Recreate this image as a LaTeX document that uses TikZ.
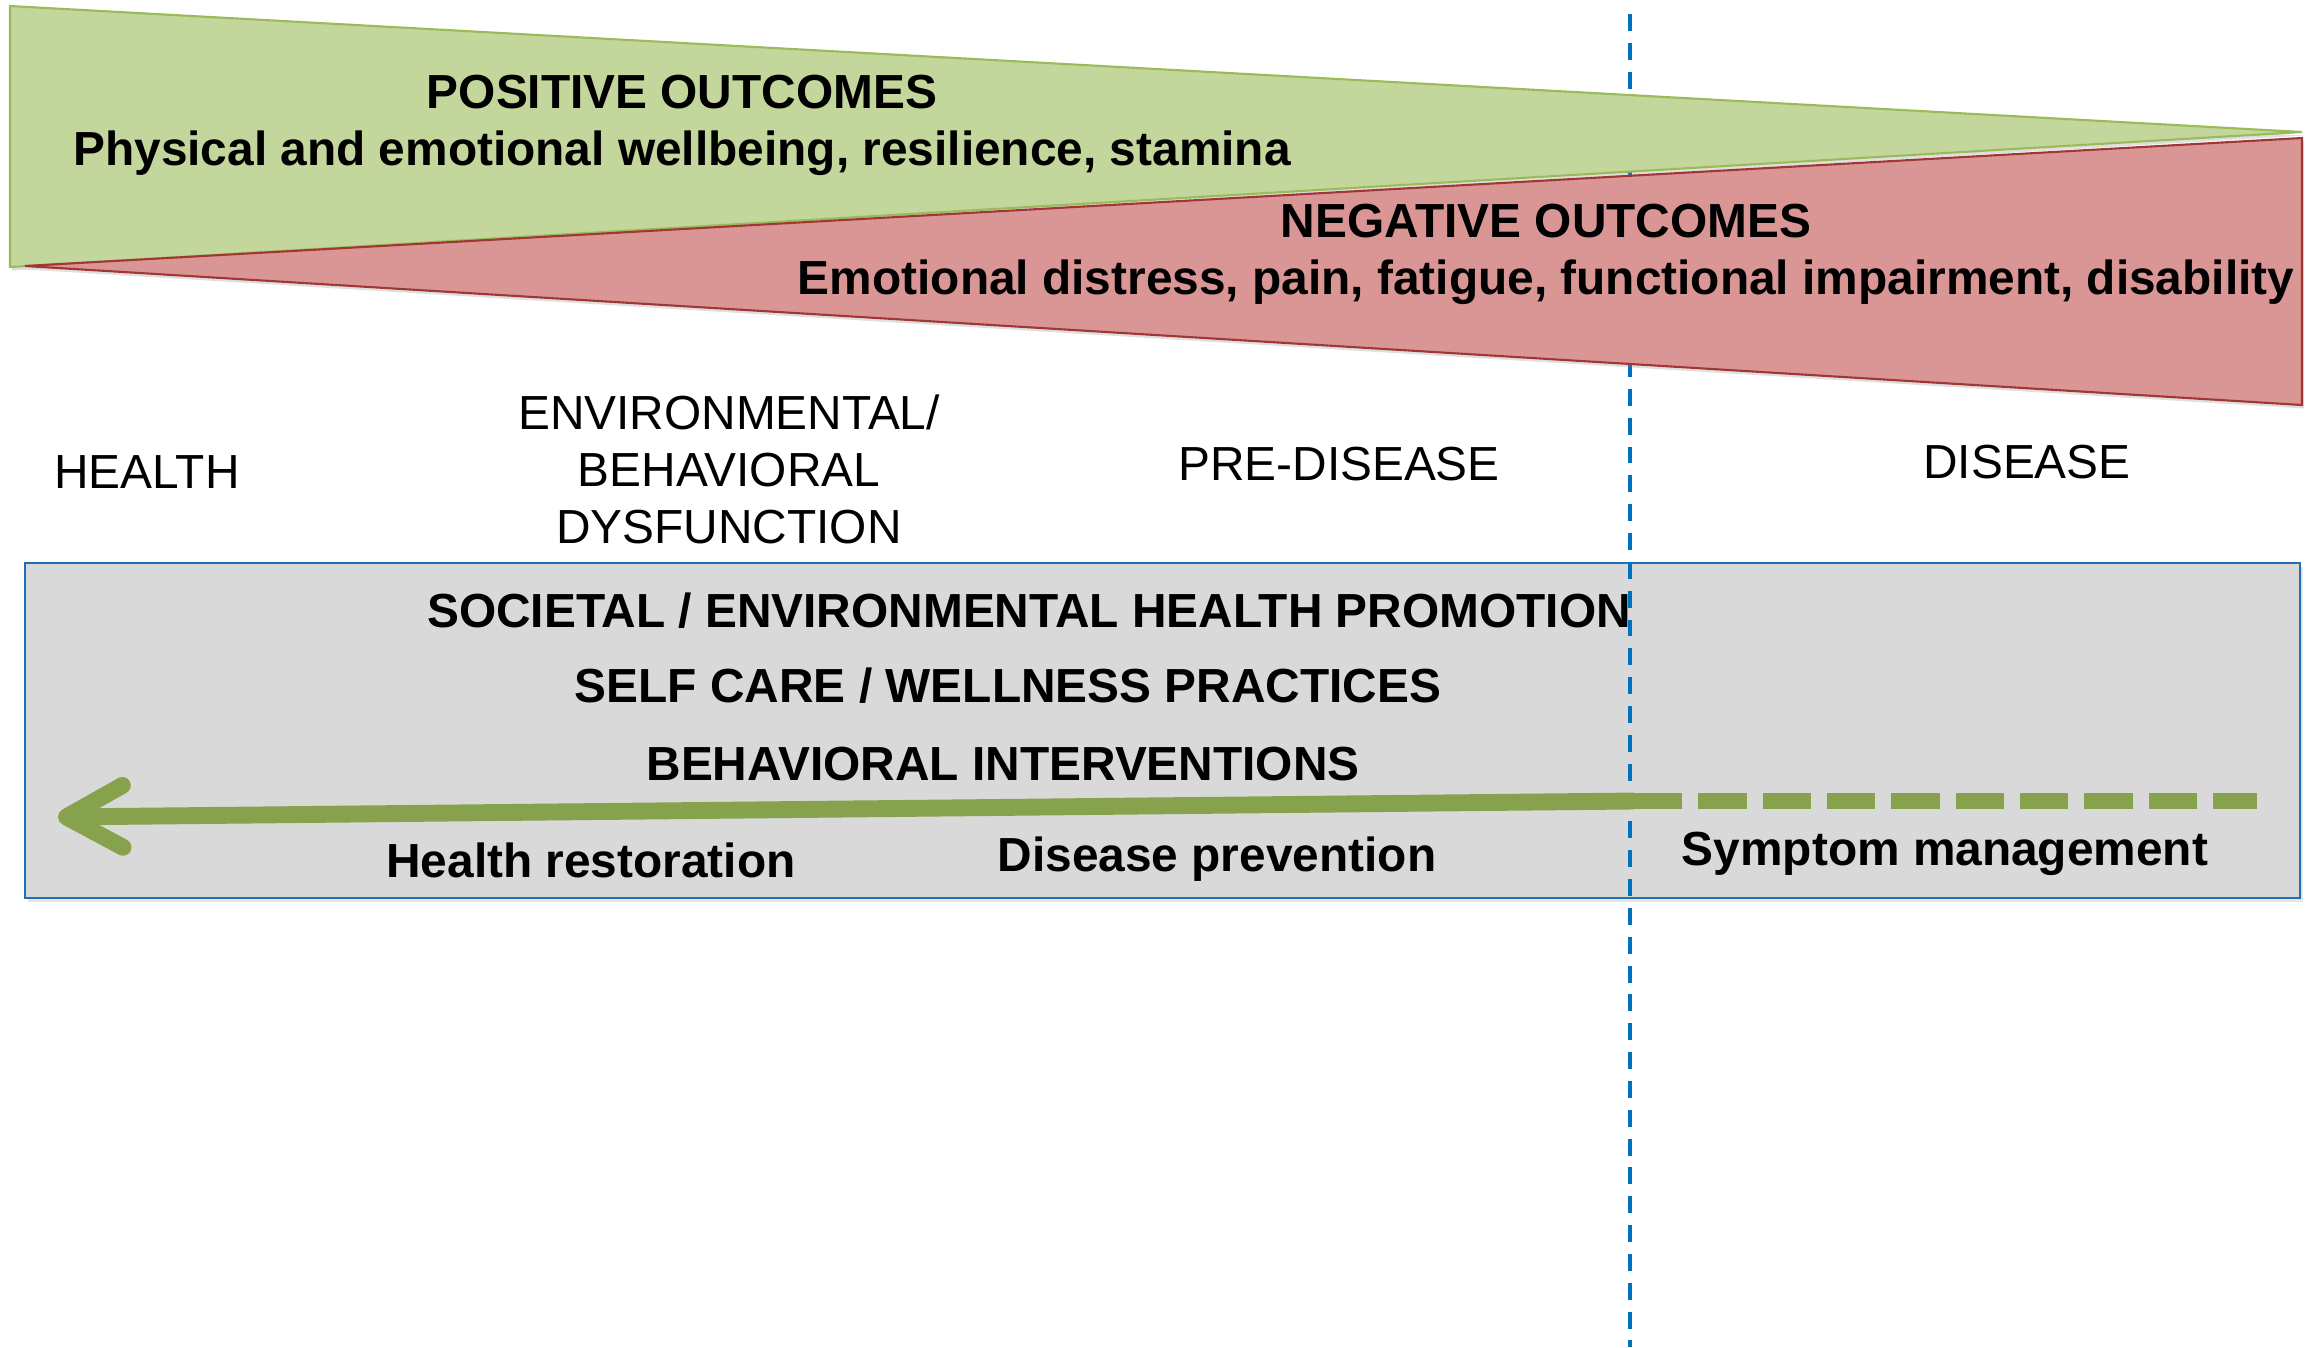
\documentclass[tikz,border=0pt]{standalone}
\usepackage{fontspec}
\setmainfont{Liberation Sans}
\usepackage{xcolor}
\usepackage{tikz}
\usetikzlibrary{arrows.meta, positioning, shadows}

\definecolor{posgreen}{RGB}{195,214,155}
\definecolor{posedge}{RGB}{155,187,89}
\definecolor{negred}{RGB}{217,150,148}
\definecolor{negedge}{RGB}{160,55,53}
\definecolor{boxgray}{RGB}{217,217,217}
\definecolor{boxblue}{RGB}{36,110,185}
\definecolor{routegreen}{RGB}{134,162,76}
\definecolor{lineblue}{RGB}{0,112,192}

\begin{document}
\begin{tikzpicture}[x=0.01cm, y=-0.01cm, node distance=0.57cm]
        % Stijlen voor vlakken, lijnen en teksten
        \tikzstyle{posband} = [fill=posgreen, draw=posedge, line width=0.6pt, drop shadow={opacity=0.25, shadow xshift=0.6pt, shadow yshift=-1pt}]
        \tikzstyle{negband} = [fill=negred, draw=negedge, line width=0.6pt, drop shadow={opacity=0.25, shadow xshift=0.6pt, shadow yshift=-1pt}]
        \tikzstyle{promobox} = [fill=boxgray, draw=boxblue, line width=0.8pt, drop shadow={opacity=0.2, shadow xshift=0.8pt, shadow yshift=-1pt}]
        \tikzstyle{divider} = [lineblue, line width=1.2pt, dash pattern=on 4.8pt off 3.4pt]
        \tikzstyle{route} = [routegreen, line width=4.8pt]
        \tikzstyle{heading} = [font=\bfseries\fontsize{13.6}{16.2}\selectfont, inner sep=0pt, text height=9.8pt, text depth=0pt]
        \tikzstyle{stage} = [font=\fontsize{13.6}{16.2}\selectfont, inner sep=0pt, align=center]

        \useasboundingbox (0,0) rectangle (2305,1347);
        \fill[white] (0,0) rectangle (2305,1347);

        % Grijs vlak en scheidingslijn
        \draw[promobox] (25,563) rectangle (2300,898);
        \coordinate (divtop) at (1630,14);
        \coordinate (divbot) at (1630,1347);
        \draw[divider] (divtop) -- (divbot);

        % Driehoeken
        \draw[posband] (10,6) -- (2302,132) -- (10,267) -- cycle;
        \draw[negband] (25,266) -- (2302,138) -- (2302,405) -- cycle;

        % Pijl
        \coordinate (tip) at (58,817);
        \coordinate (split) at (1634,801);
        \coordinate (tail) at (2257,801);
        \draw[route, -{Straight Barb[round, length=16pt, width=17.6pt]}] (split) -- (tip);
        \draw[route, dash pattern=on 13.7pt off 4.6pt] (split) -- (tail);

        % Teksten
        \node (pos) [heading] at (682,91) {POSITIVE OUTCOMES};
        \node (posdesc) [heading, below of=pos] {Physical and emotional wellbeing, resilience, stamina};
        \node (neg) [heading] at (1546,220) {NEGATIVE OUTCOMES};
        \node (negdesc) [heading, below of=neg] {Emotional distress, pain, fatigue, functional impairment, disability};

        \node (health) [stage] at (147,472) {HEALTH};
        \node (dysfunc) [stage] at (729,469) {ENVIRONMENTAL/\\BEHAVIORAL\\DYSFUNCTION};
        \node (predisease) [stage] at (1339,464) {PRE-DISEASE};
        \node (disease) [stage] at (2027,462) {DISEASE};

        \node (societal) [heading] at (1029,610) {SOCIETAL / ENVIRONMENTAL HEALTH PROMOTION};
        \node (selfcare) [heading] at (1008,685) {SELF CARE / WELLNESS PRACTICES};
        \node (behav) [heading] at (1003,763) {BEHAVIORAL INTERVENTIONS};

        \node (restore) [heading] at (591,860) {Health restoration};
        \node (prevent) [heading] at (1217,854) {Disease prevention};
        \node (symptom) [heading] at (1945,848) {Symptom management};

    \end{tikzpicture}
\end{document}
